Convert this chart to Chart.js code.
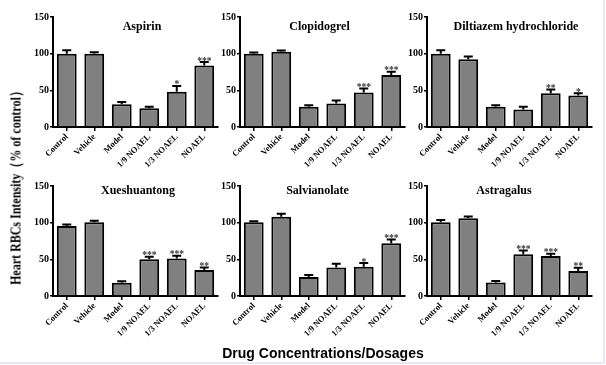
<!DOCTYPE html>
<html>
<head>
<meta charset="utf-8">
<script src="https://cdn.jsdelivr.net/npm/chart.js@4.4.0/dist/chart.umd.min.js"></script>
<style>
  html, body { margin: 0; padding: 0; background: #fff; }
  #wrap { position: relative; width: 606px; height: 365px; overflow: hidden; background: #fff; }
  #wrap canvas { position: absolute; }
  #frame { position: absolute; left: 0; top: 0; width: 603px; height: 362px;
           border-right: 2px solid #e8e8f4; border-bottom: 2px solid #e8e8f4; }
  #ytitle { position: absolute; left: 16px; top: 185px; white-space: nowrap;
            transform: translate(-50%, -50%) rotate(-90deg) scaleX(0.8);
            font: bold 15px "Liberation Serif", serif; color: #000; }
  #xtitle { position: absolute; left: 323px; top: 353px; white-space: nowrap;
            transform: translate(-50%, -50%);
            font: bold 14px "Liberation Sans", Arial, sans-serif; color: #000; }
</style>
</head>
<body>
<div id="wrap">
  <div id="frame"></div>
  <canvas id="c0" width="204" height="177"></canvas>
  <canvas id="c1" width="204" height="177"></canvas>
  <canvas id="c2" width="204" height="177"></canvas>
  <canvas id="c3" width="204" height="177"></canvas>
  <canvas id="c4" width="204" height="177"></canvas>
  <canvas id="c5" width="204" height="177"></canvas>
  <div id="ytitle">Heart RBCs Intensity（% of control）</div>
  <div id="xtitle">Drug Concentrations/Dosages</div>
</div>
<script>
const categories = ["Control", "Vehicle", "Model", "1/9 NOAEL", "1/3 NOAEL", "NOAEL"];
const yTicks = [0, 50, 100, 150];

const aspirinMean = [100, 100, 31, 25.5, 48, 84];
const aspirinErr = [4.5, 2, 3, 2, 8, 4.5];
const aspirinStars = ["", "", "", "", "*", "***"];

const clopidogrelMean = [100, 102.7, 27.5, 32, 47, 71];
const clopidogrelErr = [1.5, 1.5, 2, 4, 5.5, 4.5];
const clopidogrelStars = ["", "", "", "", "***", "***"];

const diltiazemMean = [100, 92.5, 27.5, 24, 46, 43];
const diltiazemErr = [4.5, 3.5, 2, 3.5, 5, 3];
const diltiazemStars = ["", "", "", "", "**", "*"];

const xueshuantongMean = [95.5, 100.5, 18, 50, 51, 35.5];
const xueshuantongErr = [2, 2, 2, 3.5, 4, 3.5];
const xueshuantongStars = ["", "", "", "***", "***", "**"];

const salvianolateMean = [100.5, 108, 26, 39, 40, 72];
const salvianolateErr = [1.5, 4, 2.5, 5, 5, 5];
const salvianolateStars = ["", "", "", "", "*", "***"];

const astragalusMean = [100.5, 106, 18.5, 57, 54.5, 34];
const astragalusErr = [3, 2.5, 2, 5, 3, 4.5];
const astragalusStars = ["", "", "", "***", "***", "**"];

const panels = [
  { title: "Aspirin", mean: aspirinMean, err: aspirinErr, stars: aspirinStars },
  { title: "Clopidogrel", mean: clopidogrelMean, err: clopidogrelErr, stars: clopidogrelStars },
  { title: "Diltiazem hydrochloride", mean: diltiazemMean, err: diltiazemErr, stars: diltiazemStars },
  { title: "Xueshuantong", mean: xueshuantongMean, err: xueshuantongErr, stars: xueshuantongStars },
  { title: "Salvianolate", mean: salvianolateMean, err: salvianolateErr, stars: salvianolateStars },
  { title: "Astragalus", mean: astragalusMean, err: astragalusErr, stars: astragalusStars },
];

// where the y axis line and the 150 line sit in the page
const axisLeft = [53, 239.5, 427];
const plotTop = [16.7, 186];
const titleDown = [10, 5];
const titleShift = [6.5, -3, 6.5, 2.5, -5, -5.5];
const Y_W = 33, PAD_TOP = 12, X_H = 55;

// error caps, significance stars and the in-plot title
const extras = {
  id: "extras",
  afterDatasetsDraw(chart, args, opts) {
    const ctx = chart.ctx;
    const meta = chart.getDatasetMeta(0);
    const y = chart.scales.y;
    ctx.save();
    ctx.strokeStyle = "#000";
    ctx.lineWidth = 2;
    meta.data.forEach((bar, i) => {
      const top = y.getPixelForValue(opts.mean[i]);
      const tip = y.getPixelForValue(opts.mean[i] + opts.err[i]);
      ctx.beginPath();
      ctx.moveTo(bar.x, top);
      ctx.lineTo(bar.x, tip);
      ctx.moveTo(bar.x - 4.5, tip);
      ctx.lineTo(bar.x + 4.5, tip);
      ctx.stroke();
      if (opts.stars[i]) {
        ctx.fillStyle = "#333";
        ctx.font = "bold 9.5px 'Liberation Serif', serif";
        ctx.textAlign = "center";
        ctx.textBaseline = "alphabetic";
        ctx.fillText(opts.stars[i], bar.x, tip + 1.5);
      }
    });
    const a = chart.chartArea;
    ctx.fillStyle = "#000";
    ctx.font = "bold 12px 'Liberation Serif', serif";
    ctx.textAlign = "center";
    ctx.textBaseline = "middle";
    ctx.fillText(opts.title, (a.left + a.right) / 2 + opts.dx, a.top + opts.dy);
    ctx.restore();
  }
};

panels.forEach((p, k) => {
  const col = k % 3, row = Math.floor(k / 3);
  const canvas = document.getElementById("c" + k);
  canvas.style.left = (axisLeft[col] - Y_W) + "px";
  canvas.style.top = (plotTop[row] - PAD_TOP) + "px";

  new Chart(canvas.getContext("2d"), {
    type: "bar",
    data: {
      labels: categories,
      datasets: [{
        data: p.mean,
        backgroundColor: "#808080",
        borderColor: "#000",
        borderWidth: 2,
        borderSkipped: "bottom",
        barPercentage: 0.72,
        categoryPercentage: 1,
      }],
    },
    options: {
      responsive: false,
      animation: false,
      layout: { padding: { top: PAD_TOP, right: 6, left: 0, bottom: 0 } },
      plugins: {
        legend: { display: false },
        tooltip: { enabled: false },
        extras: { ...p, dx: titleShift[k], dy: titleDown[row] },
      },
      scales: {
        x: {
          offset: true,
          grid: { display: true, drawOnChartArea: false, offset: false, drawTicks: true, tickLength: 4, color: "#000", lineWidth: 1.5 },
          border: { display: true, color: "#000", width: 2 },
          ticks: {
            autoSkip: false, maxRotation: 45, minRotation: 45, padding: 1,
            color: "#000", font: { family: "'Liberation Serif', serif", weight: "bold", size: 8.5 },
          },
          afterFit(scale) { scale.height = X_H; },
        },
        y: {
          min: 0, max: 150,
          afterBuildTicks(scale) { scale.ticks = yTicks.map(v => ({ value: v })); },
          grid: { display: true, drawOnChartArea: false, drawTicks: true, tickLength: 3, color: "#000", lineWidth: 1.5 },
          border: { display: true, color: "#000", width: 2 },
          ticks: {
            padding: 1, color: "#000",
            font: { family: "'Liberation Serif', serif", weight: "bold", size: 10 },
          },
          afterFit(scale) { scale.width = Y_W; },
        },
      },
    },
    plugins: [extras],
  });
});
</script>
</body>
</html>
